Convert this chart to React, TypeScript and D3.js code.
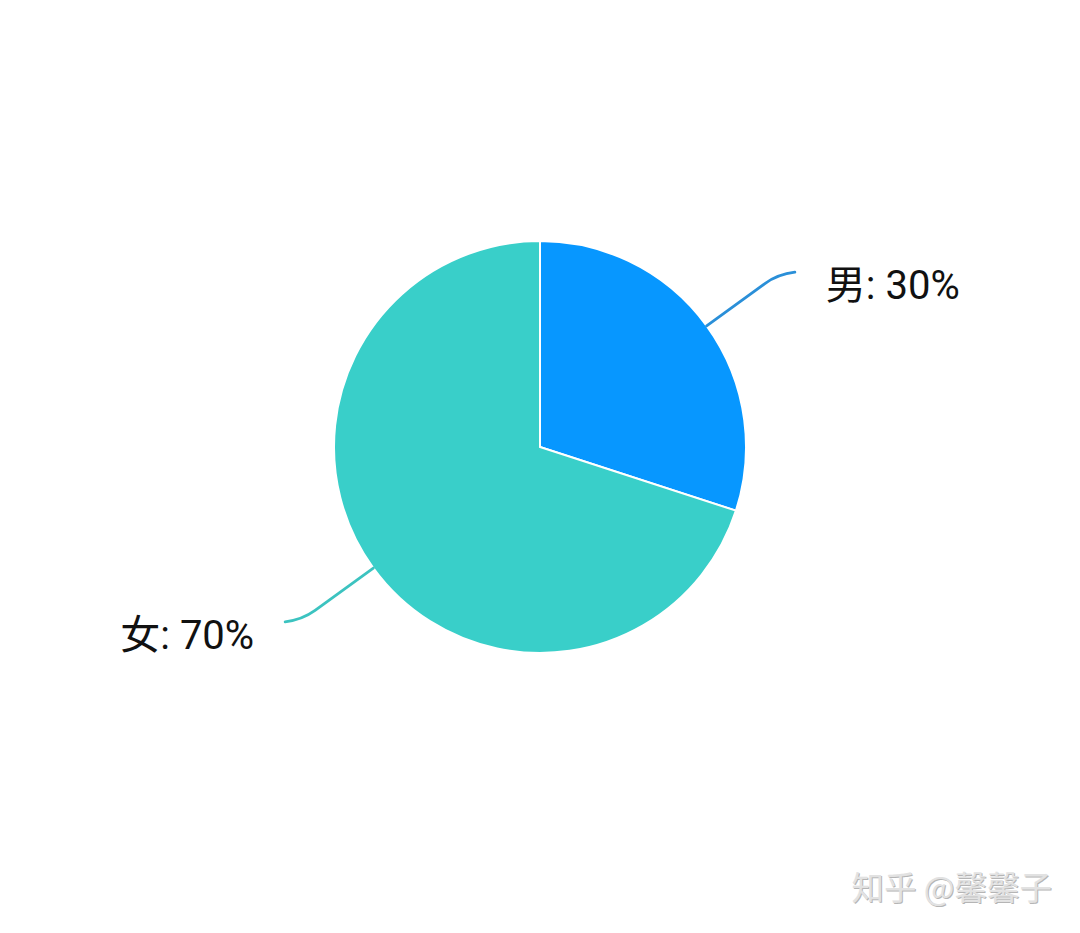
import React from "react";
import * as d3 from "d3";

const categories = ["男", "女"];
const values = [30, 70];
const colors = ["#0797ff", "#39cfc9"];
const lineColors = ["#2a8fd8", "#3cc3c0"];
const watermark = "知乎 @馨馨子";

const W = 1080;
const H = 933;
const cx = 540;
const cy = 447;
const R = 206;

export default function App() {
  const pie = d3.pie<number>().sort(null).value((d) => d);
  const arcs = pie(values);
  const arcGen = d3.arc<d3.PieArcDatum<number>>().innerRadius(0).outerRadius(R);
  const total = d3.sum(values);

  return (
    <svg
      width={W}
      height={H}
      style={{ position: "absolute", left: 0, top: 0, background: "#fff" }}
      fontFamily="Roboto, 'Noto Sans CJK SC', sans-serif"
    >
      <g transform={`translate(${cx},${cy})`}>
        {arcs.map((a, i) => (
          <path key={i} d={arcGen(a) || ""} fill={colors[i]} stroke="#fff" strokeWidth={2} />
        ))}
        {arcs.map((a, i) => {
          const mid = (a.startAngle + a.endAngle) / 2;
          const sx = Math.sin(mid), sy = -Math.cos(mid);
          const p0 = [sx * R, sy * R];
          const len1 = 72;
          const p1 = [sx * (R + len1), sy * (R + len1)];
          const pc = [sx * (R + len1 + 16), sy * (R + len1 + 16)];
          const dir = sx >= 0 ? 1 : -1;
          const p2 = [pc[0] + dir * 17, pc[1] + (sy < 0 ? -2 : 2)];
          const d = `M${p0[0]},${p0[1]} L${p1[0]},${p1[1]} Q${pc[0]},${pc[1]} ${p2[0]},${p2[1]}`;
          const tx = p2[0] + dir * 31;
          const pct = Math.round((values[i] / total) * 100);
          return (
            <g key={"l" + i}>
              <path d={d} fill="none" stroke={lineColors[i]} strokeWidth={2.8} strokeLinecap="round" />
              <text
                x={tx}
                y={p2[1] + 27}
                fontSize={40}
                fill="#111"
                textAnchor={dir > 0 ? "start" : "end"}
              >
                {`${categories[i]}: ${pct}%`}
              </text>
            </g>
          );
        })}
      </g>
      <text
        x={1053}
        y={901}
        fontSize={32.5}
        textAnchor="end"
        fill="#b5b5b5"
        fontFamily="'Noto Sans CJK SC', sans-serif"
      >
        {watermark}
      </text>
      <text
        x={1052}
        y={900}
        fontSize={32.5}
        textAnchor="end"
        fill="#e2e2e2"
        fontFamily="'Noto Sans CJK SC', sans-serif"
      >
        {watermark}
      </text>
    </svg>
  );
}
